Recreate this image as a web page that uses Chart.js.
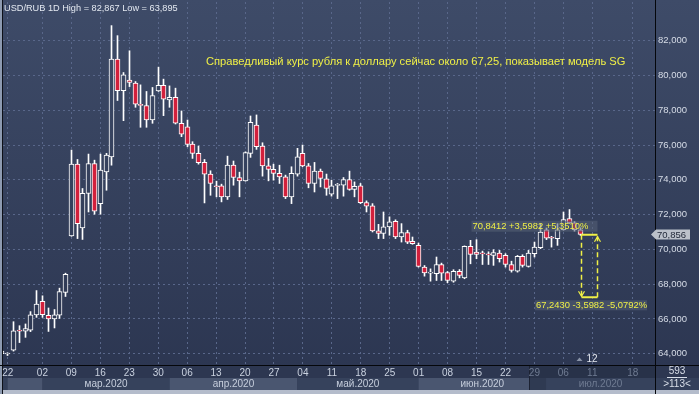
<!DOCTYPE html>
<html>
<head>
<meta charset="utf-8">
<script src="https://cdn.jsdelivr.net/npm/chart.js@4.4.0/dist/chart.umd.min.js"></script>
<style>
  html,body{margin:0;padding:0;background:#2c3651;}
  #c{display:block}
</style>
</head>
<body>
<canvas id="c" width="699" height="394"></canvas>
<script>
// USD/RUB daily, 20.02.2020 - 09.07.2020
const days = [
  '2020-02-20','2020-02-21','2020-02-24','2020-02-25','2020-02-26','2020-02-27','2020-02-28',
  '2020-03-02','2020-03-03','2020-03-04','2020-03-05','2020-03-06','2020-03-09','2020-03-10','2020-03-11','2020-03-12','2020-03-13',
  '2020-03-16','2020-03-17','2020-03-18','2020-03-19','2020-03-20','2020-03-23','2020-03-24','2020-03-25','2020-03-26','2020-03-27',
  '2020-03-30','2020-03-31','2020-04-01','2020-04-02','2020-04-03','2020-04-06','2020-04-07','2020-04-08','2020-04-09','2020-04-10',
  '2020-04-13','2020-04-14','2020-04-15','2020-04-16','2020-04-17','2020-04-20','2020-04-21','2020-04-22','2020-04-23','2020-04-24',
  '2020-04-27','2020-04-28','2020-04-29','2020-04-30','2020-05-01','2020-05-04','2020-05-05','2020-05-06','2020-05-07','2020-05-08',
  '2020-05-11','2020-05-12','2020-05-13','2020-05-14','2020-05-15','2020-05-18','2020-05-19','2020-05-20','2020-05-21','2020-05-22',
  '2020-05-25','2020-05-26','2020-05-27','2020-05-28','2020-05-29','2020-06-01','2020-06-02','2020-06-03','2020-06-04','2020-06-05',
  '2020-06-08','2020-06-09','2020-06-10','2020-06-11','2020-06-12','2020-06-15','2020-06-16','2020-06-17','2020-06-18','2020-06-19',
  '2020-06-22','2020-06-23','2020-06-24','2020-06-25','2020-06-26','2020-06-29','2020-06-30','2020-07-01','2020-07-02','2020-07-03',
  '2020-07-06','2020-07-07','2020-07-08','2020-07-09'
];
const open = [
  64.00,63.98,64.21,65.32,65.30,65.36,66.23,
  67.01,66.21,66.00,66.21,67.53,70.77,74.90,71.23,73.21,74.94,
  72.63,74.46,75.32,80.94,79.13,79.73,79.56,78.32,78.27,77.44,
  79.11,79.44,78.60,78.75,77.25,77.05,76.06,75.52,75.00,74.33,
  73.65,73.65,73.02,74.84,74.13,73.94,75.52,77.15,75.94,74.80,
  74.60,74.37,74.17,73.02,74.33,75.52,74.80,73.79,74.50,74.06,
  73.17,73.68,73.69,74.02,73.44,73.65,72.69,72.50,71.06,70.91,
  71.29,71.61,70.71,70.96,70.46,70.23,68.98,68.63,68.60,69.13,
  68.67,68.17,68.73,68.36,70.17,69.84,69.76,69.70,69.65,69.79,
  69.65,69.13,68.75,69.60,69.02,69.75,70.10,71.13,70.66,70.61,
  71.13,71.77,71.52,71.13
];
const high = [
  64.20,64.05,65.84,65.61,65.71,66.42,67.63,
  67.33,66.63,66.54,67.77,68.63,75.71,75.17,73.50,75.48,75.13,
  75.48,75.52,82.867,82.29,80.17,81.42,79.65,79.46,79.08,79.31,
  80.48,79.79,79.40,79.27,77.96,77.44,76.19,75.94,75.17,74.52,
  73.92,73.75,75.36,75.08,74.44,75.61,77.67,77.73,76.13,75.23,
  74.90,74.84,74.27,74.75,75.81,76.00,74.94,75.00,74.62,74.33,
  73.98,73.79,74.13,74.50,73.88,73.79,72.79,72.63,71.44,72.15,
  71.87,71.70,71.48,71.10,70.71,70.36,69.07,68.88,69.56,69.21,
  68.73,68.83,68.84,70.20,70.52,70.56,69.90,69.86,69.98,69.94,
  69.75,69.32,69.65,69.69,69.94,70.42,71.48,71.23,70.75,71.48,
  72.15,72.29,71.60,71.25
];
const low = [
  63.95,63.895,64.15,64.64,64.94,65.27,66.09,
  66.09,65.28,65.48,66.03,67.29,70.75,70.62,70.57,72.15,72.02,
  72.02,73.40,74.84,78.56,77.40,79.36,78.17,77.02,77.02,77.25,
  79.08,77.69,78.17,77.21,76.48,75.90,75.23,74.90,72.67,73.11,
  73.02,72.73,72.87,73.69,73.02,73.92,75.29,75.75,74.21,73.94,
  73.98,73.79,72.92,72.63,74.21,74.75,73.54,73.30,73.59,73.11,
  73.06,72.92,73.06,73.40,73.02,72.63,72.15,71.00,70.62,70.62,
  70.81,70.62,70.42,70.33,70.29,68.98,68.46,68.17,68.21,68.21,
  68.08,68.11,68.36,68.31,69.17,69.46,69.13,69.13,69.08,69.27,
  68.98,68.69,68.69,68.98,68.98,69.56,70.04,70.56,70.13,70.23,
  71.10,71.48,71.05,70.80
];
const close = [
  64.15,64.00,65.32,65.30,65.44,66.23,66.86,
  66.25,66.00,66.23,67.57,68.56,74.90,71.48,73.22,74.94,72.19,
  74.56,75.42,80.94,79.13,80.04,79.60,78.35,78.28,77.44,78.85,
  79.44,78.63,78.75,77.25,76.62,76.04,75.52,74.98,74.33,73.79,
  73.60,73.02,74.84,74.13,73.94,75.56,77.31,75.90,74.80,74.60,
  74.37,74.17,73.02,74.37,75.32,74.80,73.79,74.50,74.08,73.50,
  73.65,73.70,74.02,73.44,73.63,72.69,72.48,71.06,70.91,71.29,
  71.58,70.71,70.96,70.42,70.33,69.02,68.65,68.67,69.13,68.63,
  68.21,68.73,68.50,70.17,69.71,69.71,69.74,69.68,69.81,69.46,
  69.13,68.79,69.60,69.08,69.79,70.13,71.00,70.65,70.64,71.13,
  71.71,71.52,71.13,70.856
];

// x axis: positions (trading-day index, incl. future) and their labels
const dayTicks  = [1,7,12,17,22,27,32,37,42,47,52,57,62,67,72,77,82,87,92,97,102,109];
const dayLabels = ['22','02','09','16','23','30','06','13','20','27','04','11','18','25','01','08','15','22','29','06','11','18'];
const monthNames = ['фев.2020','мар.2020','апр.2020','май.2020','июн.2020','июл.2020'];
const priceTicks = [64,66,68,70,72,74,76,78,80,82];

// ruler drawn by the trader: from the last close to the SG fair value
const rulerDays = [100, 102.8];
const rulerPrices = [70.8412, 67.2430];
const note = 'Справедливый курс рубля к доллару сейчас около 67,25, показывает модель SG';

const fmt = (v, d) => v.toFixed(d).replace('.', ',');
const lastPrice = close[close.length - 1];

const canvas = document.getElementById('c');
const ctx = canvas.getContext('2d');
const bgGrad = ctx.createLinearGradient(0, 0, 0, 394);
bgGrad.addColorStop(0, '#3e4b68');
bgGrad.addColorStop(1, '#2b3550');

const UP_LINE = '#ffffff';
const DOWN_FILL = '#d2203c';
const YELLOW = '#f0f046';
const FONT = "'Liberation Sans', Arial, sans-serif";

// snap candles to whole pixels so they look crisp like the terminal
const snapPlugin = {
  id: 'snap',
  beforeDatasetsDraw(chart) {
    chart.data.datasets.forEach((ds, i) => {
      chart.getDatasetMeta(i).data.forEach(el => { el.x = Math.round(el.x - 0.5) + 0.5; });
    });
  }
};

// keep the plot area exactly where the terminal puts it
const noLabelPad = s => { s.paddingTop = 0; s.paddingBottom = 0; s.paddingLeft = 0; s.paddingRight = 0; };

const backdrop = {
  id: 'backdrop',
  beforeDraw(chart) {
    const {ctx, chartArea: a, scales: {x}} = chart;
    ctx.save();
    ctx.fillStyle = bgGrad;
    ctx.fillRect(0, 0, chart.width, chart.height);
    // date row + month row
    ctx.fillStyle = '#2d3751';
    ctx.fillRect(0, a.bottom, chart.width, 13);
    // month bands
    const starts = [];
    days.forEach((d, i) => { if (i === 0 || d.slice(5, 7) !== days[i - 1].slice(5, 7)) starts.push(i); });
    const rowY = a.bottom + 13, rowH = 12;
    ctx.fillStyle = '#34405a';
    ctx.fillRect(0, rowY, chart.width, rowH);
    starts.forEach((s, k) => {
      const x0 = Math.max(a.left, x.getPixelForValue(s === 0 ? 1 : s));
      const x1 = k + 1 < starts.length ? x.getPixelForValue(starts[k + 1]) : a.right;
      ctx.fillStyle = k % 2 === 0 ? '#4a5670' : '#36425c';
      ctx.fillRect(x0, rowY, x1 - x0, rowH);
    });
    // area right of the last full week is shown dimmed on the axis
    const dimX = Math.round(x.getPixelForValue(91.1));
    ctx.fillStyle = '#283249';
    ctx.fillRect(dimX, a.bottom, a.right - dimX, 13);
    ctx.fillStyle = '#2f3a52';
    ctx.fillRect(dimX, rowY, Math.round(x.getPixelForValue(starts[starts.length - 1])) - dimX, rowH);
    ctx.fillStyle = '#1c2233';
    ctx.fillRect(dimX, a.bottom, 1, 25);
    // month names
    ctx.font = '10px ' + FONT;
    ctx.textAlign = 'center';
    ctx.textBaseline = 'middle';
    starts.forEach((s, k) => {
      if (k === 0) return;
      const x0 = x.getPixelForValue(s);
      const x1 = k + 1 < starts.length ? x.getPixelForValue(starts[k + 1]) : a.right;
      ctx.fillStyle = k === starts.length - 1 ? '#6f7b92' : '#c6cedc';
      ctx.fillText(monthNames[k], (x0 + x1) / 2, rowY + rowH / 2 + 0.5);
    });
    // bottom strip
    ctx.fillStyle = '#b4bccb';
    ctx.fillRect(0, rowY + rowH, chart.width, chart.height - rowY - rowH);
    // left frame
    ctx.fillStyle = '#8d9ab0';
    ctx.fillRect(0, 0, 2, chart.height);
    ctx.fillStyle = '#0d1018';
    ctx.fillRect(2, 0, 1, chart.height);
    ctx.restore();
  },
  afterDraw(chart) {
    const {ctx, chartArea: a, scales: {x, y}} = chart;
    ctx.save();
    // frame lines
    ctx.fillStyle = '#05070b';
    ctx.fillRect(a.right, 0, 1, chart.height);
    ctx.fillRect(0, a.bottom, chart.width, 1);

    // title
    ctx.font = '9.2px ' + FONT;
    ctx.textAlign = 'left';
    ctx.textBaseline = 'middle';
    ctx.fillStyle = '#e4e9f1';
    ctx.fillText(`USD/RUB 1D High = ${fmt(Math.max(...high), 3)} Low = ${fmt(Math.min(...low), 3)}`, 4, 8.5);

    // note
    ctx.font = '11.15px ' + FONT;
    ctx.fillStyle = YELLOW;
    ctx.fillText(note, 206, 61.5);

    // ruler
    const rx0 = Math.round(x.getPixelForValue(rulerDays[0])) + 0.5;
    const rx1 = Math.round(x.getPixelForValue(rulerDays[1])) + 0.5;
    const ry0 = y.getPixelForValue(rulerPrices[0]);
    const ry1 = y.getPixelForValue(rulerPrices[1]);
    ctx.strokeStyle = YELLOW;
    ctx.lineWidth = 2;
    ctx.beginPath();
    ctx.moveTo(rx0, ry0); ctx.lineTo(rx1, ry0);
    ctx.moveTo(rx0, ry1); ctx.lineTo(rx1, ry1);
    ctx.stroke();
    ctx.lineWidth = 1.5;
    ctx.setLineDash([5, 3]);
    ctx.beginPath();
    ctx.moveTo(rx0, ry0); ctx.lineTo(rx0, ry1);
    ctx.moveTo(rx1, ry1); ctx.lineTo(rx1, ry0);
    ctx.stroke();
    ctx.setLineDash([]);
    ctx.lineWidth = 1.2;
    ctx.beginPath();
    ctx.moveTo(rx0 - 3, ry1 - 6); ctx.lineTo(rx0, ry1 - 1); ctx.lineTo(rx0 + 3, ry1 - 6);
    ctx.moveTo(rx1 - 3, ry0 + 7); ctx.lineTo(rx1, ry0 + 2); ctx.lineTo(rx1 + 3, ry0 + 7);
    ctx.stroke();

    const diff = rulerPrices[0] - rulerPrices[1];
    const upText = `${fmt(rulerPrices[0], 4)} +${fmt(diff, 4)} +${fmt(diff / rulerPrices[1] * 100, 4)}%`;
    const dnText = `${fmt(rulerPrices[1], 4)} -${fmt(diff, 4)} -${fmt(diff / rulerPrices[0] * 100, 4)}%`;
    ctx.font = '9.4px ' + FONT;
    ctx.fillStyle = 'rgba(86,96,118,0.55)';
    ctx.fillRect(rx1 - 126, ry0 - 14, 126, 11);
    ctx.fillRect(535, ry1 + 3, 112, 10);
    ctx.fillStyle = YELLOW;
    ctx.textAlign = 'left';
    ctx.fillText(upText, rx1 - 125, ry0 - 8.3);
    ctx.fillText(dnText, 536, ry1 + 8.3);

    // bars-count marker
    ctx.fillStyle = '#8a94a8';
    ctx.beginPath();
    ctx.moveTo(576.5, 361); ctx.lineTo(579.5, 357.5); ctx.lineTo(582.5, 361); ctx.closePath();
    ctx.fill();
    ctx.fillStyle = '#e2e6ee';
    ctx.textAlign = 'center';
    ctx.font = '10px ' + FONT;
    ctx.fillText('12', 592, 359.5);

    // last price tag
    const py = Math.round(y.getPixelForValue(lastPrice)) + 0.5;
    ctx.fillStyle = '#bcc1ca';
    ctx.beginPath();
    ctx.moveTo(651, py);
    ctx.lineTo(656, py - 5); ctx.lineTo(690, py - 5); ctx.lineTo(690, py + 5);
    ctx.lineTo(656, py + 5); ctx.closePath();
    ctx.fill();
    ctx.fillStyle = '#232a3a';
    ctx.textAlign = 'left';
    ctx.font = '9.5px ' + FONT;
    ctx.fillText(fmt(lastPrice, 3), 657, py + 0.5);

    // right-bottom counters
    ctx.fillStyle = '#d8dee8';
    ctx.textAlign = 'center';
    ctx.font = '10px ' + FONT;
    ctx.fillText('593', 677, 371.5);
    ctx.fillRect(667, 377, 20, 1);
    ctx.fillText('>113<', 677, 384.5);
    ctx.restore();
  }
};

new Chart(ctx, {
  type: 'bar',
  data: {
    datasets: [
      {
        label: 'wick',
        data: days.map((d, i) => ({x: i, y: [low[i], high[i]]})),
        backgroundColor: UP_LINE,
        barThickness: 1,
        grouped: false,
        order: 2
      },
      {
        label: 'body',
        data: days.map((d, i) => ({x: i, y: [open[i], close[i]]})),
        backgroundColor: c => close[c.dataIndex] >= open[c.dataIndex] ? bgGrad : DOWN_FILL,
        borderColor: UP_LINE,
        borderWidth: 1,
        borderSkipped: false,
        barThickness: 5,
        minBarLength: 1,
        grouped: false,
        order: 1
      }
    ]
  },
  options: {
    responsive: false,
    animation: false,
    events: [],
    layout: {padding: {left: 3, top: 2, right: 0, bottom: 0}},
    plugins: {legend: {display: false}, tooltip: {enabled: false}},
    scales: {
      x: {
        type: 'linear',
        min: 0.188,
        max: 112.83,
        offset: false,
        grid: {offset: false, color: '#59678a', drawTicks: false},
        border: {display: false, dash: [2, 3]},
        afterBuildTicks: s => { s.ticks = dayTicks.map(v => ({value: v})); },
        afterFit: s => { s.height = 29; noLabelPad(s); },
        ticks: {
          autoSkip: false,
          maxRotation: 0,
          padding: 2,
          font: {family: FONT, size: 10},
          color: c => (c.tick && c.tick.value >= 92) ? '#6f7b92' : '#c9d1df',
          callback: (v) => dayLabels[dayTicks.indexOf(v)]
        }
      },
      y: {
        position: 'right',
        min: 63.35,
        max: 84.225,
        grid: {color: '#59678a', drawTicks: false},
        border: {display: false, dash: [2, 3]},
        afterBuildTicks: s => { s.ticks = priceTicks.map(v => ({value: v})); },
        afterFit: s => { s.width = 44; noLabelPad(s); },
        ticks: {
          padding: 3,
          crossAlign: 'near',
          font: {family: FONT, size: 9.5},
          color: '#d6dce7',
          callback: v => fmt(v, 3)
        }
      }
    }
  },
  plugins: [backdrop, snapPlugin]
});
</script>
</body>
</html>
